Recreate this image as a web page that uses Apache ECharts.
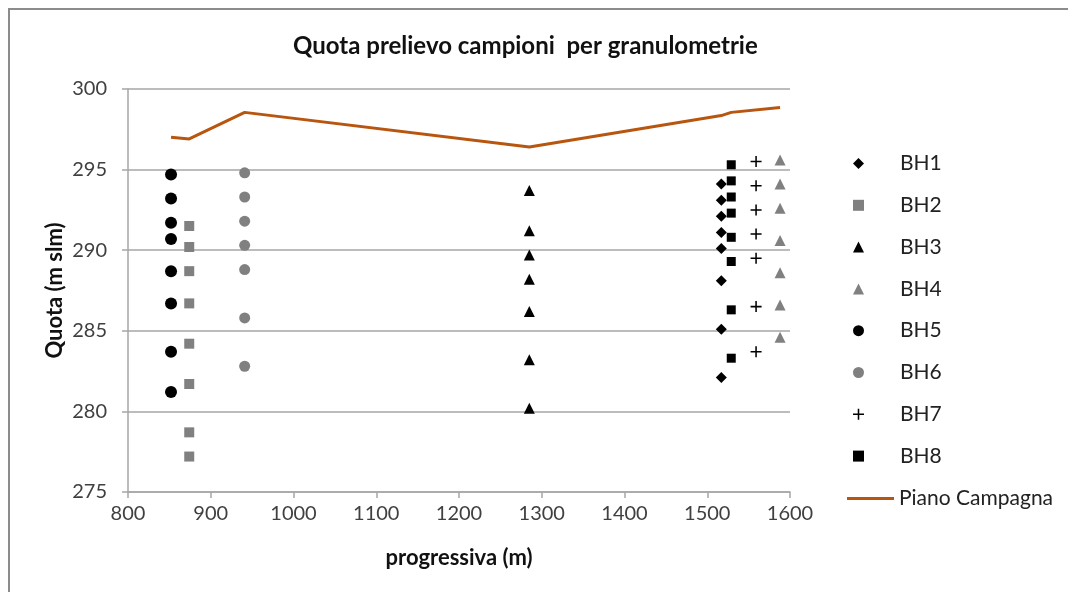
<!DOCTYPE html>
<html>
<head>
<meta charset="utf-8">
<script src="https://cdn.jsdelivr.net/npm/echarts@6/dist/echarts.min.js"></script>
<style>
    html, body {margin: 0; padding: 0; background: #fff;}
    #chart {width: 1068px; height: 592px;}
</style>
</head>
<body>
<div id="chart"></div>
<script>
// progressiva (m) of each borehole
var xBH1 = 1517, xBH2 = 874, xBH3 = 1285, xBH4 = 1588,
    xBH5 = 852, xBH6 = 941, xBH7 = 1559, xBH8 = 1529;

// sample heights (m slm)
var bh1 = [294.1, 293.1, 292.1, 291.1, 290.1, 288.1, 285.1, 282.1];
var bh2 = [291.5, 290.2, 288.7, 286.7, 284.2, 281.7, 278.7, 277.2];
var bh3 = [293.7, 291.2, 289.7, 288.2, 286.2, 283.2, 280.2];
var bh4 = [295.6, 294.1, 292.6, 290.6, 288.6, 286.6, 284.6];
var bh5 = [294.7, 293.2, 291.7, 290.7, 288.7, 286.7, 283.7, 281.2];
var bh6 = [294.8, 293.3, 291.8, 290.3, 288.8, 285.8, 282.8];
var bh7 = [295.5, 294.0, 292.5, 291.0, 289.5, 286.5, 283.7];
var bh8 = [295.3, 294.3, 293.3, 292.3, 290.8, 289.3, 286.3, 283.3];

// piano campagna
var pcX = [852, 874, 941, 1285, 1517, 1529, 1588];
var pcY = [297.0, 296.9, 298.55, 296.4, 298.35, 298.55, 298.85];

var font = 'Lato, "Open Sans", sans-serif';
var plus = 'path://M4.3,0h1.4v4.3h4.3v1.4h-4.3v4.3h-1.4v-4.3h-4.3v-1.4h4.3z';

var pts = function (x, arr) {
    return arr.map(function (v) {
        return [x, v];
    });
};

var sc = function (name, x, arr, symbol, size, color) {
    return {
        name: name,
        type: 'scatter',
        data: pts(x, arr),
        symbol: symbol,
        symbolSize: size,
        itemStyle: {color: color, opacity: 1},
        z: 3
    };
};

var myChart = echarts.init(document.getElementById('chart'), null, {renderer: 'canvas'});

var option = {
    backgroundColor: '#fff',
    animation: false,
    title: {
        text: 'Quota prelievo campioni  per granulometrie',
        left: 293,
        top: 34,
        padding: 0,
        textStyle: {fontFamily: font, fontWeight: 'bold', fontSize: 24, color: '#111'}
    },
    graphic: [{
        type: 'rect',
        shape: {x: 9, y: 9, width: 1200, height: 800},
        style: {fill: null, stroke: '#8c8c8c', lineWidth: 2},
        silent: true
    }],
    grid: {left: 128, right: 278, top: 89, bottom: 100},
    legend: [{
        orient: 'vertical',
        left: 853,
        top: 153,
        padding: 0,
        itemWidth: 11,
        itemHeight: 11,
        itemGap: 20.8,
        data: ['BH1', 'BH2', 'BH3', 'BH4', 'BH5', 'BH6', 'BH7', 'BH8'],
        textStyle: {fontFamily: font, fontSize: 21, lineHeight: 20, color: '#222', padding: [0, 0, 0, 31]}
    }, {
        orient: 'vertical',
        left: 847,
        top: 488,
        padding: 0,
        itemWidth: 47,
        itemHeight: 3,
        icon: 'rect',
        data: ['Piano Campagna'],
        textStyle: {fontFamily: font, fontSize: 21, lineHeight: 20, color: '#222'}
    }],
    xAxis: {
        type: 'value',
        min: 800,
        max: 1600,
        interval: 100,
        name: 'progressiva (m)',
        nameLocation: 'middle',
        nameGap: 55,
        nameMoveOverlap: false,
        nameTextStyle: {fontFamily: font, fontWeight: 'bold', fontSize: 22, color: '#111'},
        axisLine: {show: true, lineStyle: {color: '#a6a6a6', width: 1.5}},
        axisTick: {show: true, length: 6, lineStyle: {color: '#a6a6a6', width: 1.5}},
        axisLabel: {
            fontFamily: font, fontSize: 20, color: '#404040', margin: 12,
            formatter: function (v) {
                return String(v);
            }
        },
        splitLine: {show: false}
    },
    yAxis: {
        type: 'value',
        min: 275,
        max: 300,
        interval: 5,
        name: 'Quota (m slm)',
        nameLocation: 'middle',
        nameRotate: 90,
        nameGap: 62,
        nameMoveOverlap: false,
        nameTextStyle: {fontFamily: font, fontWeight: 'bold', fontSize: 22, color: '#111'},
        axisLine: {show: true, lineStyle: {color: '#a6a6a6', width: 1.5}},
        axisTick: {show: true, length: 6, lineStyle: {color: '#a6a6a6', width: 1.5}},
        axisLabel: {
            fontFamily: font, fontSize: 20, color: '#404040', margin: 21,
            formatter: function (v) {
                return String(v);
            }
        },
        splitLine: {show: true, lineStyle: {color: '#a6a6a6', width: 1.5}}
    },
    series: [
        sc('BH1', xBH1, bh1, 'diamond', 11, '#000'),
        sc('BH2', xBH2, bh2, 'rect', 10, '#808080'),
        sc('BH3', xBH3, bh3, 'triangle', 11, '#000'),
        sc('BH4', xBH4, bh4, 'triangle', 11, '#808080'),
        sc('BH5', xBH5, bh5, 'circle', 12, '#000'),
        sc('BH6', xBH6, bh6, 'circle', 11, '#808080'),
        sc('BH7', xBH7, bh7, plus, 11, '#000'),
        sc('BH8', xBH8, bh8, 'rect', 9, '#000'),
        {
            name: 'Piano Campagna',
            type: 'line',
            symbol: 'none',
            data: pcX.map(function (x, i) {
                return [x, pcY[i]];
            }),
            lineStyle: {color: '#b8560f', width: 3},
            itemStyle: {color: '#b8560f'},
            z: 2
        }
    ]
};
myChart.setOption(option);
</script>
</body>
</html>
